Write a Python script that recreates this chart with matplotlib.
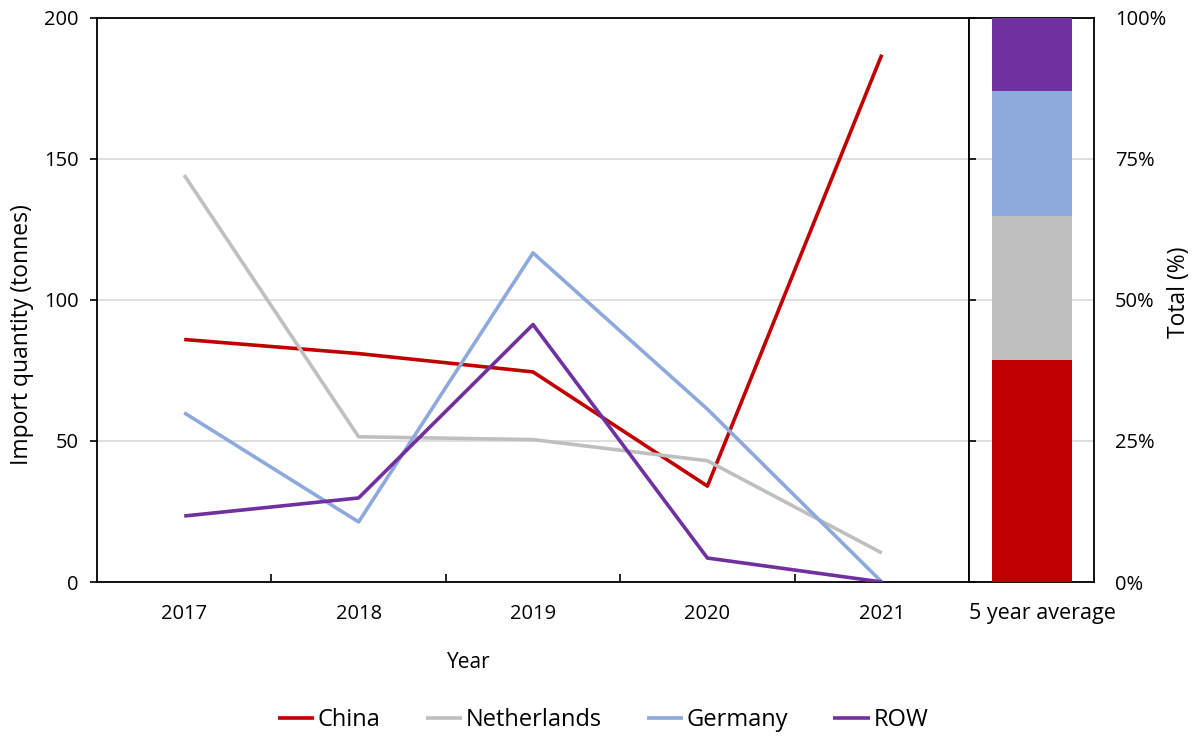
import matplotlib

matplotlib.use("Agg")
import matplotlib.pyplot as plt
from matplotlib.ticker import FixedLocator, PercentFormatter

plt.rcParams["font.family"] = ["Open Sans", "DejaVu Sans"]

years = ["2017", "2018", "2019", "2020", "2021"]
series_names = ["China", "Netherlands", "Germany", "ROW"]
china = [86, 81, 74.5, 34, 187]
netherlands = [144.3, 51.5, 50.5, 43, 10.3]
germany = [60, 21.3, 116.7, 61.3, 0]
row = [23.4, 29.8, 91.3, 8.5, 0]
colors = ["#C00000", "#BFBFBF", "#8EA9DB", "#7030A0"]

W, H = 1195, 738
fig = plt.figure(figsize=(W / 100, H / 100), dpi=100)

def frac_box(x0, y0, x1, y1):
    return [x0 / W, 1 - y1 / H, (x1 - x0) / W, (y1 - y0) / H]

ax = fig.add_axes(frac_box(97, 18, 969, 582))
ax2 = fig.add_axes(frac_box(969, 18, 1094, 582))

GRID = "#D9D9D9"
TICK_FS = 14.5
all_series = [china, netherlands, germany, row]
xs = [i + 0.5 for i in range(len(years))]

# main line chart
for vals, name, c in zip(all_series, series_names, colors):
    ax.plot(xs, vals, color=c, lw=2.6, label=name, zorder=3, solid_capstyle="butt")

ax.set_xlim(0, len(years))
ax.set_ylim(0, 200)
ax.set_yticks([0, 50, 100, 150, 200])
ax.yaxis.grid(True, color=GRID, lw=1.2, zorder=0)
ax.set_axisbelow(True)
ax.set_xticks(xs)
ax.set_xticklabels(years)
ax.xaxis.set_minor_locator(FixedLocator(range(1, len(years))))
ax.tick_params(axis="x", which="major", length=0, pad=16, labelsize=TICK_FS)
ax.tick_params(axis="x", which="minor", direction="in", length=5.5, width=1.2)
ax.tick_params(axis="y", direction="out", length=5, width=1.2, pad=8, labelsize=TICK_FS)
for s in ax.spines.values():
    s.set_linewidth(1.3)
fig.text(22 / W, 1 - 335 / H, "Import quantity (tonnes)", rotation=90,
         ha="center", va="center", fontsize=16.5)
fig.text(469 / W, 1 - 663 / H, "Year", ha="center", va="center", fontsize=15)

# 5 year average stacked bar
totals = [sum(v) for v in all_series]
grand = sum(totals)
bottom = 0
for t, c in zip(totals, colors):
    share = t / grand
    ax2.bar(0, share, bottom=bottom, width=0.64, color=c, zorder=3)
    bottom += share
ax2.set_xlim(-0.5, 0.5)
ax2.set_ylim(0, 1)
ax2.set_yticks([0, 0.25, 0.5, 0.75, 1.0])
ax2.yaxis.set_major_formatter(PercentFormatter(1.0, decimals=0))
ax2.yaxis.grid(True, color=GRID, lw=1.2, zorder=0)
ax2.set_axisbelow(True)
ax2.tick_params(axis="y", left=True, right=False, labelleft=False, labelright=True,
                direction="in", length=5, width=1.2, pad=15, labelsize=TICK_FS)
ax2.set_xticks([])
fig.text(1042 / W, 1 - 613 / H, "5 year average", ha="center", va="center", fontsize=15.5)
fig.text(1179 / W, 1 - 292 / H, "Total (%)", rotation=90,
         ha="center", va="center", fontsize=16.5)
for s in ax2.spines.values():
    s.set_linewidth(1.3)

handles, labels = ax.get_legend_handles_labels()
fig.legend(handles, labels, loc="center", ncol=4, frameon=False,
           bbox_to_anchor=(603 / W, 1 - 720 / H), fontsize=17,
           handlelength=1.55, handletextpad=0.15, columnspacing=1.9)

fig.savefig("out.png", dpi=100)
